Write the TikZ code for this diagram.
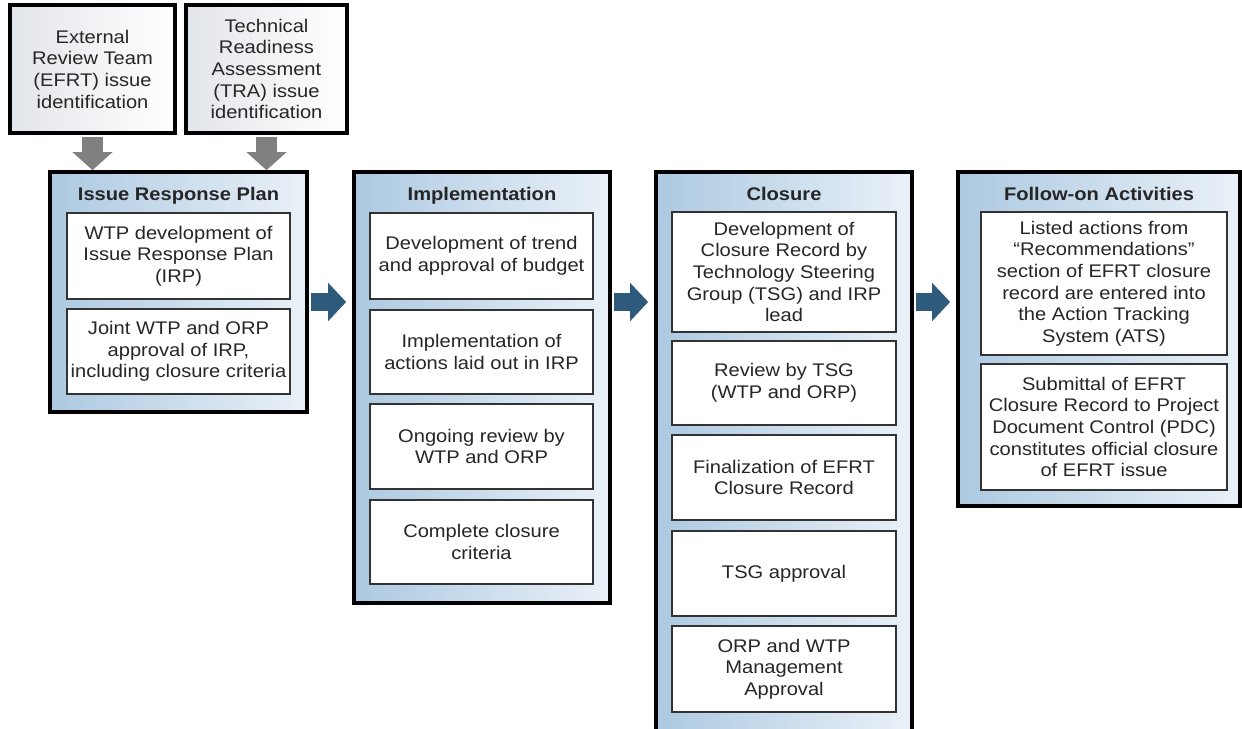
\documentclass[tikz,border=0pt]{standalone}
\usepackage{fontspec}
\setmainfont[FakeStretch=1.1]{Liberation Sans}
\usetikzlibrary{arrows.meta,positioning}
\definecolor{panelblue}{RGB}{172,201,225}
\definecolor{panellight}{RGB}{234,241,248}
\definecolor{topgrey}{RGB}{226,229,234}
\definecolor{arrowblue}{RGB}{46,91,124}
\definecolor{arrowgrey}{RGB}{128,128,128}

\begin{document}
\begin{tikzpicture}[x=0.025cm, y=-0.025cm]
		\tikzstyle{every node} = [font = \fontsize{13}{15.4}\selectfont, text = black!85, align = center]
		\tikzset{
			sz/.style 2 args = {minimum width = #1*0.025cm, minimum height = #2*0.025cm},
			panel/.style = {draw = black, line width = 2.6pt, inner sep = 0pt, left color = panelblue, right color = panellight},
			topbox/.style = {draw = black, line width = 2.6pt, inner sep = 0pt, left color = topgrey, right color = white},
			stepbox/.style = {draw = black!80, line width = .8pt, fill = white, inner sep = 0pt},
			title/.style = {font = \fontsize{13}{15}\selectfont\bfseries, inner sep = 0pt},
			greyarrow/.style = {arrowgrey, line width = .525cm, shorten < = 1.3pt, -{Triangle[length = .45cm, width = .975cm]}},
			bluearrow/.style = {arrowblue, line width = .43cm, shorten < = 1.3pt, shorten > = .15cm, -{Triangle[length = .45cm, width = .93cm]}}
		}
		\useasboundingbox (0,0) rectangle (1242,729);
		\clip (0,0) rectangle (1242,729);

		% issue sources
		\node [topbox, sz = {165}{128}] (efrt) at (92.5,69) {External\\Review Team\\(EFRT) issue\\identification};
		\node [topbox, sz = {161}{128}] (tra) at (266.5,69) {Technical\\Readiness\\Assessment\\(TRA) issue\\identification};

		% the four phases
		\node [panel, sz = {257}{240}] (irp) at (178.5,292) {};
		\node [panel, sz = {256}{431}] (impl) at (482,387.5) {};
		\node [panel, sz = {256}{568}] (clos) at (784,456) {};
		\node [panel, sz = {282}{334}] (follow) at (1099,339) {};

		\node [title, below = .42cm of irp.north] {Issue Response Plan};
		\node [title, below = .42cm of impl.north] {Implementation};
		\node [title, below = .42cm of clos.north] {Closure};
		\node [title, below = .42cm of follow.north] {Follow-on Activities};

		% Issue Response Plan
		\node [stepbox, sz = {223}{86}] (irp1) at (178.5,256) {WTP development of\\Issue Response Plan\\(IRP)};
		\node [stepbox, sz = {223}{85}] (irp2) at (178.5,351.5) {Joint WTP and ORP\\approval of IRP,\\including closure criteria};

		% Implementation
		\node [stepbox, sz = {223}{86}] (impl1) at (481.5,256) {Development of trend\\and approval of budget};
		\node [stepbox, sz = {223}{84}] (impl2) at (481.5,352) {Implementation of\\actions laid out in IRP};
		\node [stepbox, sz = {223}{85}] (impl3) at (481.5,446.5) {Ongoing review by\\WTP and ORP};
		\node [stepbox, sz = {223}{84}] (impl4) at (481.5,542) {Complete closure\\criteria};

		% Closure
		\node [stepbox, sz = {224}{120}] (clos1) at (784,272) {Development of\\Closure Record by\\Technology Steering\\Group (TSG) and IRP\\lead};
		\node [stepbox, sz = {224}{84}] (clos2) at (784,383) {Review by TSG\\(WTP and ORP)};
		\node [stepbox, sz = {224}{85}] (clos3) at (784,477.5) {Finalization of EFRT\\Closure Record};
		\node [stepbox, sz = {224}{85}] (clos4) at (784,573.5) {TSG approval};
		\node [stepbox, sz = {224}{86}] (clos5) at (784,669) {ORP and WTP\\Management\\Approval};

		% Follow-on Activities
		\node [stepbox, sz = {246}{143}] (follow1) at (1104,283.5) {Listed actions from\\“Recommendations”\\section of EFRT closure\\record are entered into\\the Action Tracking\\System (ATS)};
		\node [stepbox, sz = {246}{126}] (follow2) at (1104,427) {Submittal of EFRT\\Closure Record to Project\\Document Control (PDC)\\constitutes official closure\\of EFRT issue};

		% arrows
		\coordinate (mid) at (0,302);
		\draw [greyarrow] (efrt.south) -- (efrt.south |- irp.north);
		\draw [greyarrow] (tra.south) -- (tra.south |- irp.north);
		\draw [bluearrow] (irp.east |- mid) -- (impl.west |- mid);
		\draw [bluearrow] (impl.east |- mid) -- (clos.west |- mid);
		\draw [bluearrow] (clos.east |- mid) -- (follow.west |- mid);
	\end{tikzpicture}
\end{document}
